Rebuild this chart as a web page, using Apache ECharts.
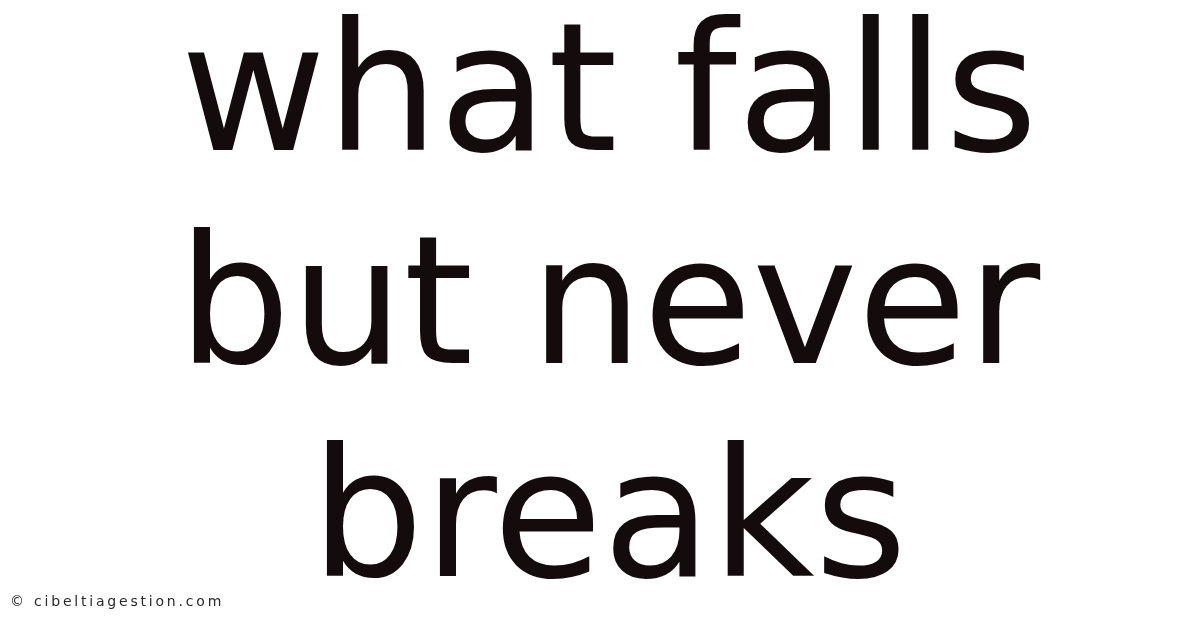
<!DOCTYPE html>
<html>
<head>
<meta charset="utf-8">
<script src="https://cdn.jsdelivr.net/npm/echarts@6/dist/echarts.min.js"></script>
<style>
  html, body { margin: 0; padding: 0; background: #ffffff; }
  #chart { width: 1200px; height: 628px; }
</style>
</head>
<body>
<div id="chart"></div>
<script>
// text lines of the title card
const titleLines = ['what falls', 'but never', 'breaks'];
const watermark = '© cibeltiagestion.com';

const chart = echarts.init(document.getElementById('chart'));

const elements = titleLines.map(function (line, i) {
  return {
    type: 'text',
    x: 609,
    y: 104 + i * 213,
    style: {
      text: line,
      font: '178px "DejaVu Sans"',
      fill: '#140c0c',
      align: 'center',
      verticalAlign: 'middle'
    }
  };
});

// spread the watermark letters a bit
elements.push({
  type: 'text',
  x: 10,
  y: 602,
  style: {
    text: watermark.split('').join('\u2009'),
    font: '14px "DejaVu Sans"',
    fill: '#2a2a2a',
    align: 'left',
    verticalAlign: 'middle'
  }
});

chart.setOption({
  animation: false,
  backgroundColor: '#ffffff',
  graphic: { elements: elements }
});
</script>
</body>
</html>
